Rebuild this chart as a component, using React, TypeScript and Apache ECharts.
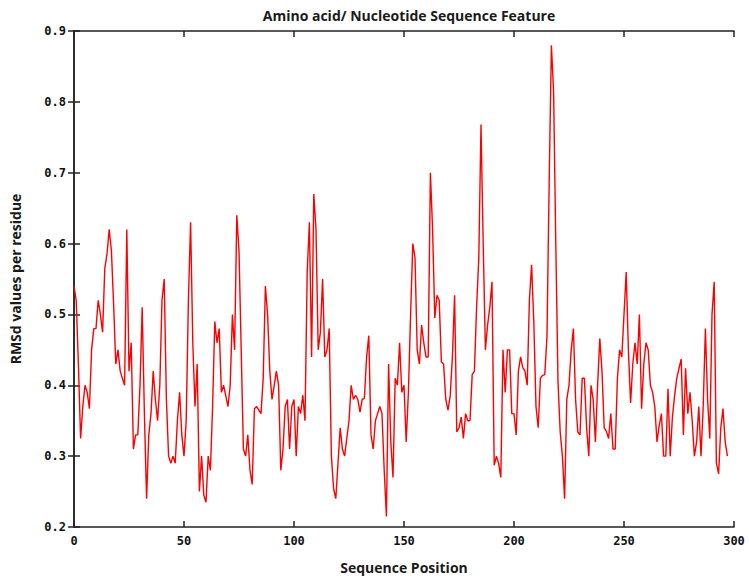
import React, { useEffect, useRef } from "react";
import * as echarts from "echarts";

const titleText = "Amino acid/ Nucleotide Sequence Feature";
const xName = "Sequence Position";
const yName = "RMSd values per residue";

// RMSd values per residue, positions 0..297
const rmsd: number[] = [
  0.54, 0.52, 0.43, 0.325, 0.37, 0.40, 0.39, 0.367, 0.45, 0.48,
  0.48, 0.52, 0.50, 0.475, 0.565, 0.585, 0.62, 0.59, 0.515, 0.43,
  0.45, 0.42, 0.41, 0.40, 0.62, 0.42, 0.46, 0.31, 0.33, 0.33,
  0.40, 0.51, 0.36, 0.24, 0.33, 0.36, 0.42, 0.38, 0.35, 0.40,
  0.52, 0.55, 0.38, 0.30, 0.29, 0.30, 0.29, 0.35, 0.39, 0.33,
  0.30, 0.35, 0.52, 0.63, 0.46, 0.37, 0.43, 0.25, 0.30, 0.245,
  0.235, 0.30, 0.28, 0.37, 0.49, 0.46, 0.48, 0.39, 0.40, 0.385,
  0.37, 0.40, 0.50, 0.45, 0.64, 0.59, 0.45, 0.31, 0.30, 0.33,
  0.28, 0.26, 0.367, 0.37, 0.365, 0.36, 0.41, 0.54, 0.50, 0.42,
  0.38, 0.40, 0.42, 0.40, 0.28, 0.31, 0.37, 0.38, 0.31, 0.37,
  0.38, 0.30, 0.37, 0.36, 0.386, 0.35, 0.56, 0.63, 0.44, 0.67,
  0.62, 0.45, 0.475, 0.55, 0.44, 0.45, 0.48, 0.30, 0.254, 0.24,
  0.29, 0.34, 0.31, 0.30, 0.325, 0.35, 0.40, 0.38, 0.386, 0.38,
  0.362, 0.38, 0.382, 0.44, 0.47, 0.33, 0.31, 0.35, 0.36, 0.37,
  0.36, 0.28, 0.215, 0.43, 0.32, 0.27, 0.41, 0.40, 0.46, 0.39,
  0.40, 0.32, 0.39, 0.50, 0.60, 0.58, 0.45, 0.43, 0.485, 0.46,
  0.44, 0.44, 0.70, 0.62, 0.495, 0.527, 0.52, 0.433, 0.43, 0.38,
  0.365, 0.385, 0.44, 0.527, 0.334, 0.34, 0.355, 0.325, 0.36, 0.35,
  0.35, 0.415, 0.42, 0.51, 0.58, 0.768, 0.60, 0.45, 0.485, 0.51,
  0.546, 0.287, 0.30, 0.29, 0.27, 0.45, 0.39, 0.45, 0.45, 0.36,
  0.36, 0.33, 0.42, 0.44, 0.425, 0.42, 0.40, 0.52, 0.57, 0.49,
  0.37, 0.34, 0.41, 0.414, 0.415, 0.47, 0.69, 0.88, 0.815, 0.60,
  0.405, 0.334, 0.30, 0.24, 0.38, 0.40, 0.45, 0.48, 0.38, 0.334,
  0.33, 0.41, 0.41, 0.34, 0.30, 0.40, 0.38, 0.32, 0.40, 0.466,
  0.42, 0.34, 0.335, 0.325, 0.36, 0.31, 0.31, 0.41, 0.45, 0.44,
  0.50, 0.56, 0.45, 0.375, 0.43, 0.46, 0.43, 0.50, 0.367, 0.43,
  0.46, 0.45, 0.40, 0.39, 0.37, 0.32, 0.343, 0.36, 0.30, 0.30,
  0.395, 0.30, 0.355, 0.385, 0.41, 0.424, 0.437, 0.33, 0.424, 0.36,
  0.39, 0.35, 0.30, 0.32, 0.37, 0.30, 0.37, 0.48, 0.38, 0.325,
  0.50, 0.546, 0.29, 0.275, 0.34, 0.367, 0.32, 0.30,
];

const positions: number[] = rmsd.map((_, i) => i);

const xTicks = { min: 0, max: 300, interval: 50 };
const yTicks = { min: 0.2, max: 0.9, interval: 0.1 };

const tickFont = "'DejaVu Sans Mono', monospace";
const textFont = "'Liberation Sans Narrow', 'Open Sans', sans-serif";

export default function App() {
  const ref = useRef<HTMLDivElement>(null);

  useEffect(() => {
    document.body.style.margin = "0";
    if (!ref.current) return;
    const chart = echarts.init(ref.current, null, { renderer: "svg" });
    const axisLine = { show: true, lineStyle: { color: "#222", width: 1.5 } };
    const tick = { show: true, inside: true, length: 6, lineStyle: { color: "#222", width: 1.5 } };
    chart.setOption({
      animation: false,
      backgroundColor: "#fff",
      title: {
        text: titleText,
        left: 404,
        textAlign: "center",
        top: 3,
        textStyle: { fontFamily: textFont, fontWeight: "bold", fontSize: 14, color: "#1a1a1a" },
      },
      grid: { left: 73, right: 15, top: 31, bottom: 53, containLabel: false },
      xAxis: [
        {
          type: "value",
          min: xTicks.min,
          max: xTicks.max,
          interval: xTicks.interval,
          position: "bottom",
          name: xName,
          nameLocation: "middle",
          nameGap: 33,
          nameTextStyle: { fontFamily: textFont, fontWeight: "bold", fontSize: 14, color: "#1a1a1a" },
          axisLine,
          axisTick: tick,
          splitLine: { show: false },
          axisLabel: { fontFamily: tickFont, fontWeight: "bold", fontSize: 12, color: "#111", margin: 8 },
        },
        {
          type: "value",
          min: xTicks.min,
          max: xTicks.max,
          interval: xTicks.interval,
          position: "top",
          axisLine,
          axisTick: tick,
          splitLine: { show: false },
          axisLabel: { show: false },
        },
      ],
      yAxis: [
        {
          type: "value",
          min: yTicks.min,
          max: yTicks.max,
          interval: yTicks.interval,
          position: "left",
          name: yName,
          nameLocation: "middle",
          nameGap: 52,
          nameTextStyle: { fontFamily: textFont, fontWeight: "bold", fontSize: 14, color: "#1a1a1a" },
          axisLine,
          axisTick: tick,
          splitLine: { show: false },
          axisLabel: {
            fontFamily: tickFont,
            fontWeight: "bold",
            fontSize: 12,
            color: "#111",
            margin: 8,
            formatter: (v: number) => v.toFixed(1),
          },
        },
        {
          type: "value",
          min: yTicks.min,
          max: yTicks.max,
          interval: yTicks.interval,
          position: "right",
          axisLine,
          axisTick: tick,
          splitLine: { show: false },
          axisLabel: { show: false },
        },
      ],
      series: [
        {
          type: "line",
          xAxisIndex: 0,
          yAxisIndex: 0,
          data: positions.map((p, i) => [p, rmsd[i]]),
          showSymbol: false,
          lineStyle: { color: "#ff0000", width: 1.4 },
          itemStyle: { color: "#ff0000" },
        },
      ],
    });
    return () => chart.dispose();
  }, []);

  return <div ref={ref} style={{ width: 749, height: 580 }} />;
}
